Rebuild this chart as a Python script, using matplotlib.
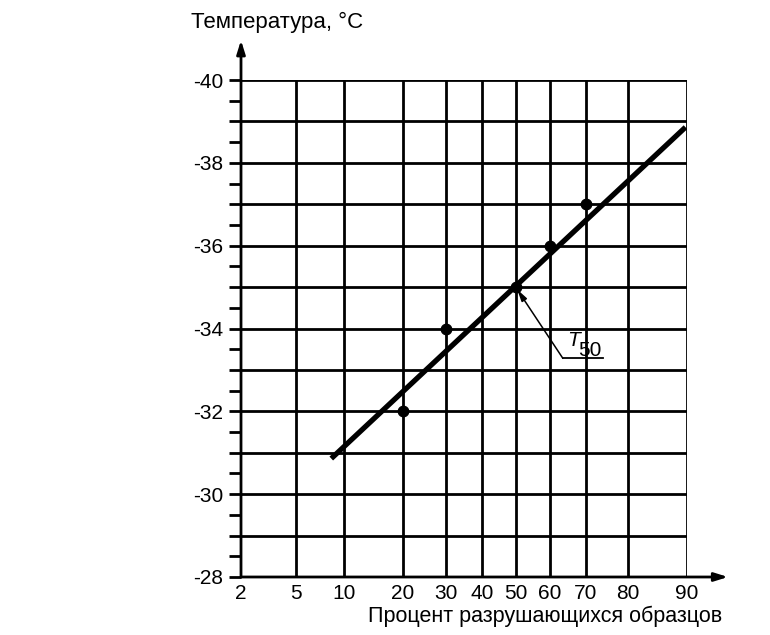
import numpy as np
import matplotlib
matplotlib.use("Agg")
import matplotlib.pyplot as plt
from statistics import NormalDist

# test results: percent of broken samples vs temperature
pct_points = [20, 30, 50, 60, 70]
temp_points = [-32, -34, -35, -36, -37]

# fitted straight line (probability paper)
fit_pct = [8.4, 89.8]
fit_temp = [-30.86, -38.86]

x_ticks = [2, 5, 10, 20, 30, 40, 50, 60, 70, 80, 90]
y_major = [-28, -30, -32, -34, -36, -38, -40]
y_grid = list(range(-28, -41, -1))
y_minor = [v + 0.5 for v in range(-40, -28)]

nd = NormalDist()
_ppf = np.vectorize(nd.inv_cdf, otypes=[float])
_cdf = np.vectorize(nd.cdf, otypes=[float])


def probit(p):
    p = np.clip(np.asarray(p, dtype=float) / 100.0, 1e-7, 1 - 1e-7)
    return _ppf(p)


def inv_probit(z):
    return _cdf(np.asarray(z, dtype=float)) * 100.0


plt.rcParams["font.family"] = ["Liberation Sans", "DejaVu Sans"]
plt.rcParams["axes.unicode_minus"] = False

fig = plt.figure(figsize=(7.7, 6.35), dpi=100)
W, H = 770, 635
x0, x1 = 241, 687
y0, y1 = 577, 80
ax = fig.add_axes([x0 / W, (H - y0) / H, (x1 - x0) / W, (y0 - y1) / H])

ax.set_xscale("function", functions=(probit, inv_probit))
ax.set_xlim(2, 90)
ax.set_ylim(-28, -40)

GRID_LW = 2.0

# grid
for v in x_ticks[1:]:
    ax.axvline(v, color="black", lw=GRID_LW, zorder=1)
for v in y_grid[1:]:
    ax.axhline(v, color="black", lw=GRID_LW, zorder=1)

for s in ["top", "right", "left", "bottom"]:
    ax.spines[s].set_visible(False)

ax.set_xticks(x_ticks)
ax.set_xticklabels([str(v) for v in x_ticks], fontsize=15)
ax.xaxis.set_minor_locator(matplotlib.ticker.NullLocator())
ax.tick_params(axis="x", length=0, pad=5)

ax.set_yticks(y_grid)
ax.set_yticklabels([str(v) if v in y_major else "" for v in y_grid], fontsize=15)
ax.set_yticks(y_minor, minor=True)
ax.tick_params(axis="y", which="both", length=9, width=GRID_LW, pad=4)

# axes with arrows
arrow = dict(arrowstyle="-|>,head_length=0.8,head_width=0.25",
             color="black", lw=GRID_LW, shrinkA=0, shrinkB=0)
ax.annotate("", xy=(0, 1.08), xytext=(0, 0), xycoords="axes fraction", arrowprops=arrow)
ax.annotate("", xy=(1.092, 0), xytext=(0, 0), xycoords="axes fraction", arrowprops=arrow)

# fitted line and measured points
ax.plot(fit_pct, fit_temp, color="black", lw=3.8, solid_capstyle="butt", zorder=3)
ax.plot(pct_points, temp_points, "o", color="black", ms=7.5, zorder=4)

# T50 callout
knee = (63.8, -33.28)
ax.annotate("", xy=(50, -35), xytext=knee,
            arrowprops=dict(arrowstyle="-|>,head_length=0.7,head_width=0.18",
                            color="black", lw=1.1, shrinkA=0, shrinkB=2))
ax.plot([knee[0], 74.3], [knee[1], knee[1]], color="black", lw=1.3, zorder=3)
ax.text(65.0, -33.58, "T", fontsize=15, style="italic", ha="left", va="baseline")
ax.text(68.0, -33.33, "50", fontsize=15, ha="left", va="baseline")

fig.text(191 / W, 1 - 28 / H, "Температура, °C", fontsize=16, ha="left", va="baseline")
fig.text(368 / W, 1 - 622 / H, "Процент разрушающихся образцов", fontsize=15.5,
         ha="left", va="baseline")

fig.savefig("out.png", dpi=100, facecolor="white")
